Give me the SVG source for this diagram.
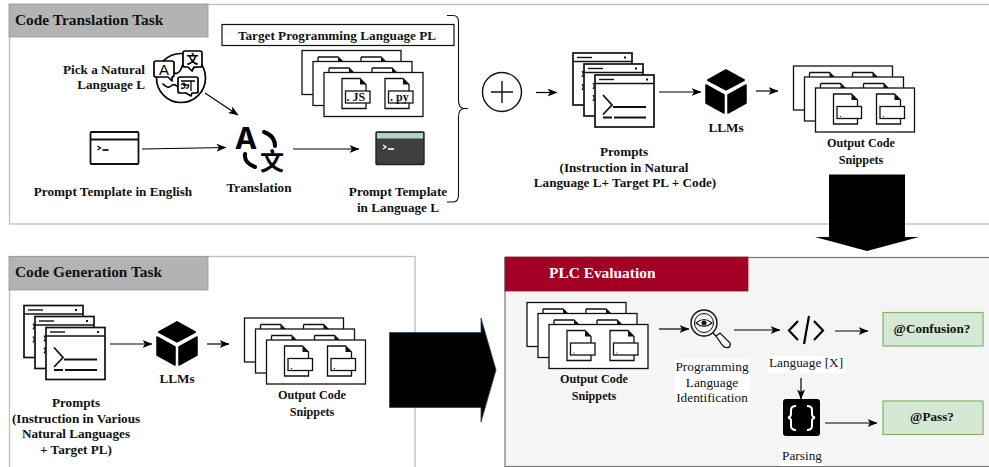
<svg xmlns="http://www.w3.org/2000/svg" width="989" height="467" viewBox="0 0 989 467">
<style>
text{font-family:"Liberation Serif","Times New Roman",serif;fill:#111}
.b{font-weight:bold;font-size:13.2px;text-anchor:middle}
.o{font-weight:bold;font-size:12.2px;text-anchor:middle}
.h{font-weight:bold;font-size:15.4px}
.r{font-size:13.3px;text-anchor:middle}
.card{fill:#fff;stroke:#111;stroke-width:1.3}
.pc{fill:#fff;stroke:#111;stroke-width:1.7}
.ln{fill:none;stroke:#111;stroke-width:1.3}
.ic{fill:none;stroke:#000;stroke-width:1.7;stroke-linecap:round;stroke-linejoin:round}
.thick{fill:none;stroke:#000;stroke-width:4;stroke-linecap:round}
.con{fill:none;stroke:#000;stroke-width:1.2;marker-end:url(#ah)}
.panel{stroke:#bdbdbd;stroke-width:1.3;fill:#fff}
.hdr{fill:#b3b3b3;stroke:#999;stroke-width:.8}
.ok{fill:#d5e8d4;stroke:#82b366;stroke-width:1.2}
</style>
<defs>
<marker id="ah" viewBox="0 0 10 8" refX="9.5" refY="4" markerWidth="10" markerHeight="8" markerUnits="userSpaceOnUse" orient="auto"><path d="M0 0L10 4L0 8L2.5 4Z" fill="#000"/></marker>
<g id="doc"><path class="ln" style="fill:#fff" d="M0 0H18L24 6V30H0Z"/><path d="M18 0L24 6H18Z" fill="#111"/></g>
<g id="stackBase">
<rect class="card" x="0" y="0" width="99" height="44"/>
<path class="ln" d="M16 6.500H36L41 11.500M59 6.500H79L84 11.500M16 6.500V11M59 6.500V11"/>
<path d="M36 6.500L41 11.500H36Z" fill="#111"/><path d="M79 6.500L84 11.500H79Z" fill="#111"/>
<rect class="card" x="11" y="11" width="99" height="44"/>
<path class="ln" d="M27 17.500H47L52 22.500M70 17.500H90L95 22.500M27 17.500V22M70 17.500V22"/>
<path d="M47 17.500L52 22.500H47Z" fill="#111"/><path d="M90 17.500L95 22.500H90Z" fill="#111"/>
<rect class="card" x="22" y="22" width="99" height="44"/>
<use href="#doc" x="40" y="28"/><use href="#doc" x="83" y="28"/>
<rect class="ln" style="fill:#fff" x="43.500" y="40.500" width="24.500" height="12"/><rect class="ln" style="fill:#fff" x="86.500" y="40.500" width="24.500" height="12"/>
</g>
<g id="stackOut">
<use href="#stackBase"/>
<rect x="46.500" y="50" width="1" height="1" fill="#111"/><rect x="89.500" y="50" width="1" height="1" fill="#111"/>
</g>
<g id="promptCard">
<rect class="pc" x="0" y="0" width="59" height="52"/>
<path class="pc" d="M0 8.500H59"/><path d="M4 4.500H19" stroke="#111" stroke-width="1.400"/><rect x="51" y="3.500" width="2" height="2" fill="#111"/>
</g>
<g id="prompts">
<use href="#promptCard"/><use href="#promptCard" x="11" y="11"/>
<use href="#promptCard" x="22" y="22"/>
<path d="M9 18l1.500 3-1.500 3M9 31l1.500 3-1.500 3M20 30l1.500 3-1.500 3M20 42l1.500 3-1.500 3" stroke="#111" stroke-width="1.200" fill="none"/>
<path d="M30 42L39 52L30 61.500" fill="none" stroke="#111" stroke-width="1.800"/>
<path d="M40 54H73M30 64.500H39M41 64.500H73" stroke="#111" stroke-width="1.800"/>
</g>
<g id="cube">
<path d="M20 1L38 11L20 20.500L2 11Z" fill="#000" stroke="#000" stroke-width="2" stroke-linejoin="round"/>
<path d="M0 16L18 26V44L0 34Z" fill="#000" stroke="#000" stroke-width="1.500" stroke-linejoin="round"/>
<path d="M40 16L22 26V44L40 34Z" fill="#000" stroke="#000" stroke-width="1.500" stroke-linejoin="round"/>
</g>
<g id="term"><rect x="0" y="0" width="48" height="32" rx="1" fill="#fff" stroke="#111" stroke-width="1.800"/><path d="M0 7.500H48" stroke="#111" stroke-width="1.800"/><path d="M7 14L10 16L7 18" fill="none" stroke="#111" stroke-width="1.400"/><path d="M12 18H18" stroke="#111" stroke-width="1.800"/></g>
</defs>

<rect class="panel" x="9.500" y="4.500" width="985" height="219.500"/>
<rect class="panel" x="9.500" y="256.500" width="405.500" height="215"/>
<rect x="505" y="257.500" width="490" height="209" fill="#f5f5f5" stroke="#777" stroke-width="1.200"/>

<g id="block-arrows">
<path d="M829 174.500H905V237H919L867 251L815 237H829Z" fill="#000"/>
<path d="M389.500 332.500H481V318L496 370L481 422V407.500H389.500Z" fill="#000" stroke="#23445d" stroke-width=".8"/>
</g>

<g id="hdr-translation"><rect class="hdr" x="9" y="4" width="199" height="33"/><text class="h" x="15" y="25">Code Translation Task</text></g>

<g id="target-pl">
<rect x="222" y="24.500" width="232" height="21" fill="#fff" stroke="#111" stroke-width="1.200"/>
<text class="b" x="337" y="39.500">Target Programming Language PL</text>
<use href="#stackBase" x="302" y="50.500"/>
<text x="346.500" y="101" style="font-size:12px;font-weight:bold">. JS</text>
<text x="390" y="101" style="font-size:12px;font-weight:bold">. py</text>
</g>

<g id="pick-language">
<text class="b" x="145" y="74" style="text-anchor:end">Pick a Natural</text>
<text class="b" x="145" y="89" style="text-anchor:end">Language L</text>
<circle class="ic" cx="181" cy="78" r="24.500"/>
<path class="ic" d="M163 84q5 5 8 2t7 1M172 72q6 4 9-3t3-8M186 66q6 2 12 1" stroke-width="1.300"/>
<path class="ic" style="fill:#fff" d="M156 61H172Q174 61 174 63V75Q174 77 172 77V81L168 77H156Q154 77 154 75V63Q154 61 156 61Z"/>
<path class="ic" style="fill:#fff" d="M185 51H200Q202 51 202 53V65Q202 67 200 67H194L192 71L188 67H185Q183 67 183 65V53Q183 51 185 51Z"/>
<path class="ic" style="fill:#fff" d="M180 77H196Q198 77 198 79V91Q198 93 196 93H192L191 96L186 93H180Q178 93 178 91V79Q178 77 180 77Z"/>
<text x="164" y="75" style="font-family:'Liberation Sans',sans-serif;font-size:15px;text-anchor:middle;fill:#000">A</text>
<text x="192.500" y="64" style="font-family:'Noto Sans CJK SC',sans-serif;font-size:12px;font-weight:bold;text-anchor:middle;fill:#000">文</text>
<path d="M181 81H195M181 85q4-4 4 1q0 3-4 2M183 85h6M191 81V91M189 85q-1 4-3 3" fill="none" stroke="#000" stroke-width="1.300"/>
</g>

<g id="template-en"><use href="#term" x="90.500" y="132"/><text class="b" x="113" y="196">Prompt Template in English</text></g>

<g id="translation">
<text x="246" y="149" style="font-family:'Inter','Liberation Sans',sans-serif;font-size:30px;font-weight:bold;text-anchor:middle;fill:#000">A</text>
<path class="thick" d="M264 132Q275 136 275 146M245 154Q244 163 255 167"/>
<text x="272" y="170" style="font-family:'Noto Sans CJK SC',sans-serif;font-size:24px;font-weight:bold;text-anchor:middle;fill:#000">文</text>
<text class="b" x="259" y="192">Translation</text>
</g>

<g id="template-l">
<rect x="376" y="132" width="48" height="32.500" rx="1" fill="#3f3f3f" stroke="#222" stroke-width="1.400"/>
<rect x="377" y="133" width="46" height="5.500" fill="#b0d2cd"/>
<path d="M383 145L386 147L383 149" fill="none" stroke="#fff" stroke-width="1.300"/><path d="M388 149H394" stroke="#fff" stroke-width="1.600"/>
<text class="b" x="398" y="196">Prompt Template</text><text class="b" x="398" y="212">in Language L</text>
</g>

<g id="brace"><path d="M447 15.500H453Q458.500 15.500 458.500 22V100Q458.500 108 464 108.500H468M464 108.500Q458.500 109 458.500 117V195Q458.500 202 453 202H447" fill="none" stroke="#111" stroke-width="1.100"/></g>

<g id="plus"><circle cx="502" cy="92" r="19.500" fill="#fff" stroke="#111" stroke-width="1.400"/><path d="M491 92H513M502 81V103" stroke="#111" stroke-width="1.400"/></g>

<g id="prompts-translation"><use href="#prompts" x="573" y="53"/>
<text class="b" x="624" y="156">Prompts</text><text class="b" x="624" y="172">(Instruction in Natural</text><text class="b" x="625" y="187">Language L+ Target PL + Code)</text></g>

<g id="llm-translation"><use href="#cube" x="706" y="69"/><text class="b" x="726" y="132">LLMs</text></g>

<g id="output-translation"><use href="#stackOut" x="793.500" y="66"/><text class="o" x="861" y="147">Output Code</text><text class="o" x="861" y="164">Snippets</text></g>

<g id="hdr-generation"><rect class="hdr" x="9" y="256.500" width="199" height="33.500"/><text class="h" x="15" y="277">Code Generation Task</text></g>

<g id="prompts-generation"><use href="#prompts" x="24" y="305.500"/>
<text class="b" x="76" y="407">Prompts</text><text class="b" x="76" y="423">(Instruction in Various</text><text class="b" x="76" y="438">Natural Languages</text><text class="b" x="76" y="454">+ Target PL)</text></g>

<g id="llm-generation"><use href="#cube" x="157" y="321"/><text class="b" x="177" y="383">LLMs</text></g>

<g id="output-generation"><use href="#stackOut" x="244.500" y="318"/><text class="o" x="312" y="399">Output Code</text><text class="o" x="312" y="416">Snippets</text></g>

<g id="hdr-plc"><rect x="505" y="257" width="243" height="34" fill="#a20025" stroke="#8a1a30" stroke-width=".8"/><text class="h" x="549" y="278" style="fill:#fff">PLC Evaluation</text></g>

<g id="output-plc"><use href="#stackOut" x="527" y="302.500"/><text class="o" x="594" y="383">Output Code</text><text class="o" x="594" y="400">Snippets</text></g>

<g id="identify">
<circle cx="704" cy="323" r="13" fill="none" stroke="#111" stroke-width="1.400"/><circle cx="704" cy="323" r="9.500" fill="none" stroke="#111" stroke-width="1"/>
<path d="M696 323Q704 316 712 323Q704 330 696 323Z" fill="none" stroke="#111" stroke-width="1.100"/><circle cx="704" cy="323" r="2.500" fill="#111"/>
<path d="M713 333L716 336" stroke="#111" stroke-width="1.400"/>
<path d="M716 336L720 333L730 343Q731 347 728 347.500Q725 348 723 346Z" fill="#fff" stroke="#111" stroke-width="1.300"/>
<rect x="675" y="359" width="75" height="48" fill="#fff"/>
<text class="r" x="712" y="371">Programming</text><text class="r" x="712" y="387">Language</text><text class="r" x="712" y="402">Identification</text>
</g>

<g id="language-x">
<path d="M798 321L789 330.500L798 340M814 321L823 330.500L814 340" fill="none" stroke="#000" stroke-width="2.200"/><path d="M809 316L804 344" stroke="#000" stroke-width="2.200"/>
<rect x="768" y="356" width="77" height="17" fill="#fff"/><text class="r" x="806" y="367">Language [X]</text>
</g>

<g id="parsing">
<rect x="783" y="399" width="37" height="37" rx="3" fill="#000"/>
<path d="M796 406Q791 406 791 410V414Q791 417 788 417.500Q791 418 791 421V426Q791 430 796 430M807 406Q812 406 812 410V414Q812 417 815 417.500Q812 418 812 421V426Q812 430 807 430" fill="none" stroke="#fff" stroke-width="2"/>
<rect x="780" y="448" width="43" height="18" fill="#fff"/><text class="r" x="802" y="460">Parsing</text>
</g>

<g id="confusion"><rect class="ok" x="883" y="312.500" width="100" height="33.500"/><text class="b" x="932" y="333">@Confusion?</text></g>
<g id="pass"><rect class="ok" x="883" y="401" width="100" height="33.500"/><text class="b" x="932" y="421">@Pass?</text></g>

<g id="connectors">
<path class="con" d="M205 93L238 115"/>
<path class="con" d="M142 149L226 147.500"/>
<path class="con" d="M293 149H359"/>
<path class="con" d="M536 92.500H557"/>
<path class="con" d="M659 92H701"/>
<path class="con" d="M756 91H778"/>
<path class="con" d="M110 344H152"/>
<path class="con" d="M207 344H229"/>
<path class="con" d="M659 329H689"/>
<path class="con" d="M734 330H780"/>
<path class="con" d="M835 331H868"/>
<path class="con" d="M801 378V399"/>
<path class="con" d="M825 423H877"/>
</g>
</svg>
